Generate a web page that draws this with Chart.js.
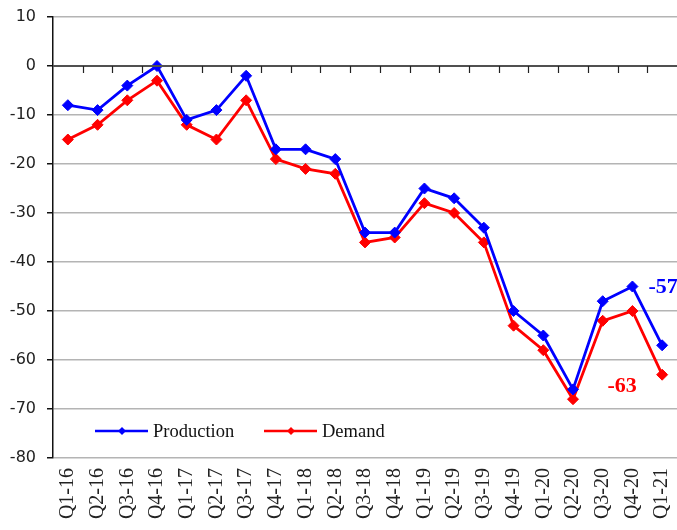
<!DOCTYPE html>
<html>
<head>
<meta charset="utf-8">
<script src="https://cdn.jsdelivr.net/npm/chart.js@4/dist/chart.umd.min.js"></script>
<style>
  html, body { margin: 0; padding: 0; background: #fff; }
  #wrap { width: 677px; height: 530px; }
</style>
</head>
<body>
<div id="wrap"><canvas id="chart"></canvas></div>
<script>
const quarters = [
  "Q1-16", "Q2-16", "Q3-16", "Q4-16",
  "Q1-17", "Q2-17", "Q3-17", "Q4-17",
  "Q1-18", "Q2-18", "Q3-18", "Q4-18",
  "Q1-19", "Q2-19", "Q3-19", "Q4-19",
  "Q1-20", "Q2-20", "Q3-20", "Q4-20",
  "Q1-21",
];
const production = [
  -8, -9, -4, 0, -11, -9, -2, -17, -17, -19, -34, -34, -25, -27, -33, -50,
  -55, -66, -48, -45, -57,
];
const demand = [
  -15, -12, -7, -3, -12, -15, -7, -19, -21, -22, -36, -35, -28, -30, -36,
  -53, -58, -68, -52, -50, -63,
];

const serif = "'Liberation Serif', 'Times New Roman', serif";

// zero line with small ticks between categories, plus legend and end labels
const extras = {
  id: "extras",
  afterDatasetsDraw(chart) {
    const ctx = chart.ctx;
    const x = chart.scales.x;
    const y = chart.scales.y;
    const area = chart.chartArea;
    const y0 = Math.round(y.getPixelForValue(0));

    ctx.save();
    ctx.strokeStyle = "#505050";
    ctx.lineWidth = 2;
    ctx.beginPath();
    ctx.moveTo(area.left, y0);
    ctx.lineTo(area.right, y0);
    ctx.stroke();
    ctx.lineWidth = 1.2;
    ctx.strokeStyle = "#222";
    for (let i = 1; i < quarters.length; i++) {
      const xb = (x.getPixelForValue(i - 1) + x.getPixelForValue(i)) / 2;
      ctx.beginPath();
      ctx.moveTo(Math.round(xb) + 0.5, y0);
      ctx.lineTo(Math.round(xb) + 0.5, y0 + 7);
      ctx.stroke();
    }

    // legend
    const ly = y.getPixelForValue(-74.5);
    const items = [
      { text: "Production", color: "#0000ff", x0: area.left + 42 },
      { text: "Demand", color: "#ff0000", x0: area.left + 211 },
    ];
    ctx.font = "18.5px " + serif;
    ctx.textBaseline = "middle";
    items.forEach((it) => {
      ctx.strokeStyle = it.color;
      ctx.fillStyle = it.color;
      ctx.lineWidth = 2.5;
      ctx.beginPath();
      ctx.moveTo(it.x0, ly);
      ctx.lineTo(it.x0 + 53, ly);
      ctx.stroke();
      const cx = it.x0 + 27;
      ctx.beginPath();
      ctx.moveTo(cx, ly - 4);
      ctx.lineTo(cx + 4, ly);
      ctx.lineTo(cx, ly + 4);
      ctx.lineTo(cx - 4, ly);
      ctx.closePath();
      ctx.fill();
      ctx.fillStyle = "#111";
      ctx.fillText(it.text, it.x0 + 58, ly + 1);
    });

    // end labels
    const last = quarters.length - 1;
    ctx.font = "bold 22px " + serif;
    ctx.textAlign = "center";
    ctx.fillStyle = "#0000ff";
    ctx.fillText(String(production[last]),
      x.getPixelForValue(last) + 1, y.getPixelForValue(production[last]) - 58);
    ctx.fillStyle = "#ff0000";
    ctx.fillText(String(demand[last]),
      x.getPixelForValue(last) - 40, y.getPixelForValue(demand[last]) + 12);
    ctx.restore();
  },
};

new Chart(document.getElementById("chart"), {
  type: "line",
  data: {
    labels: quarters,
    datasets: [
      {
        label: "Production",
        data: production,
        borderColor: "#0000ff",
        backgroundColor: "#0000ff",
      },
      {
        label: "Demand",
        data: demand,
        borderColor: "#ff0000",
        backgroundColor: "#ff0000",
      },
    ],
  },
  options: {
    responsive: true,
    maintainAspectRatio: false,
    animation: false,
    layout: {
      autoPadding: false,
      padding: { top: 17, right: 0, left: 0, bottom: 0 },
    },
    elements: {
      line: { borderWidth: 2.8, tension: 0 },
      point: { pointStyle: "rectRot", radius: 5.5, borderWidth: 1 },
    },
    scales: {
      x: {
        offset: true,
        grid: { display: false, drawTicks: false },
        border: { display: false },
        ticks: {
          minRotation: 90,
          maxRotation: 90,
          padding: 10,
          color: "#222",
          font: { family: serif, size: 20 },
        },
        afterFit(scale) {
          scale.height = 72;
          scale.paddingLeft = 0;
          scale.paddingRight = 0;
        },
      },
      y: {
        min: -80,
        max: 10,
        ticks: {
          stepSize: 10,
          padding: 11,
          color: "#222",
          font: { family: "'DejaVu Sans', sans-serif", size: 16 },
        },
        grid: {
          color: (c) => (c.tick && c.tick.value === 0 ? "rgba(0,0,0,0)" : "#b4b4b4"),
          lineWidth: 1.5,
          tickColor: "#111",
          tickLength: 6,
        },
        border: { color: "#111", width: 1.5 },
        afterFit(scale) {
          scale.width = 53;
          scale.paddingTop = 0;
          scale.paddingBottom = 0;
        },
      },
    },
    plugins: {
      legend: { display: false },
      tooltip: { enabled: false },
    },
  },
  plugins: [extras],
});
</script>
</body>
</html>
